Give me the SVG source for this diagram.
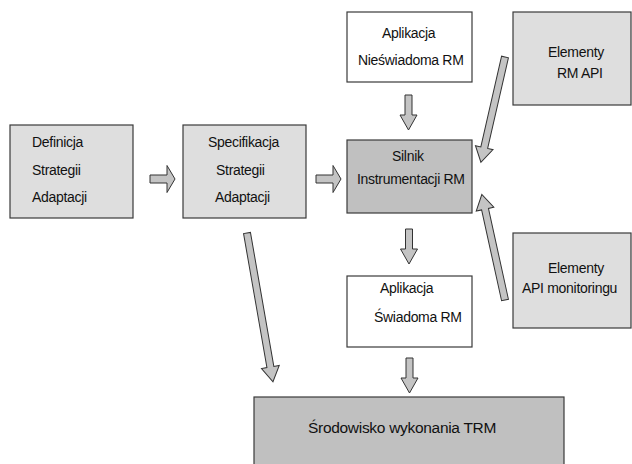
<svg xmlns="http://www.w3.org/2000/svg" width="632" height="464" viewBox="0 0 632 464">
<defs>
<style>
.box{stroke:#3a3a3a;stroke-width:1.2}
.light{fill:#dedede}
.white{fill:#ffffff}
.dark{fill:#c0c0c0}
.arr{fill:#c4c4c4;stroke:#333;stroke-width:1}
text{font-family:"Liberation Sans",Arial,sans-serif;font-size:14px;letter-spacing:-0.3px;fill:#111}
.big{font-size:15.5px;letter-spacing:-0.3px}
</style>
<path id="ah" d="M0,-4 H17 V-13.5 L25,0 L17,13.5 V4 H0 Z"/>
<path id="ad" d="M0,-3.5 H20 V-8.5 L35,0 L20,8.5 V3.5 H0 Z"/>
</defs>
<rect width="632" height="464" fill="#ffffff"/>
<g id="n-definicja">
<rect class="box light" x="10" y="125" width="123" height="93"/>
<text x="32" y="147">Definicja</text>
<text x="32" y="175">Strategii</text>
<text x="32" y="202">Adaptacji</text>
</g>
<g id="n-specyfikacja">
<rect class="box light" x="183" y="125" width="123" height="93"/>
<text x="208" y="147">Specifikacja</text>
<text x="216" y="175">Strategii</text>
<text x="215" y="202">Adaptacji</text>
</g>
<g id="n-nieswiadoma">
<rect class="box white" x="347" y="12" width="125" height="70"/>
<text x="382" y="38">Aplikacja</text>
<text x="358" y="65">Nieświadoma RM</text>
</g>
<g id="n-rmapi">
<rect class="box light" x="513" y="12" width="118" height="93"/>
<text x="548" y="57">Elementy</text>
<text x="557" y="78">RM API</text>
</g>
<g id="n-silnik">
<rect class="box dark" x="347" y="140" width="125" height="73"/>
<text x="392" y="161">Silnik</text>
<text x="357" y="184">Instrumentacji RM</text>
</g>
<g id="n-monitoring">
<rect class="box light" x="513" y="233" width="118" height="95"/>
<text x="548" y="273">Elementy</text>
<text x="522" y="293">API monitoringu</text>
</g>
<g id="n-swiadoma">
<rect class="box white" x="347" y="276" width="125" height="71"/>
<text x="380" y="293">Aplikacja</text>
<text x="374" y="322">Świadoma RM</text>
</g>
<g id="n-srodowisko">
<rect class="box dark" x="254" y="397" width="310" height="72"/>
<text class="big" x="308" y="433">Środowisko wykonania TRM</text>
</g>
<g id="connectors">
<use href="#ah" class="arr" transform="translate(150,179)"/>
<use href="#ah" class="arr" transform="translate(316,179)"/>
<use href="#ad" class="arr" transform="translate(408.5,95) rotate(90)"/>
<use href="#ad" class="arr" transform="translate(409,229) rotate(90)"/>
<use href="#ad" class="arr" transform="translate(409.5,358) rotate(90)"/>
<path class="arr" transform="translate(505,57) rotate(102.9)" d="M0,-3.5 H93 V-9 L108,0 L93,9 V3.5 H0 Z"/>
<path class="arr" transform="translate(505,300) rotate(-102.4)" d="M0,-3.5 H93 V-9 L108,0 L93,9 V3.5 H0 Z"/>
<path class="arr" transform="translate(247,233) rotate(80.1)" d="M0,-3.5 H136 V-9 L151,0 L136,9 V3.5 H0 Z"/>
</g>
</svg>
